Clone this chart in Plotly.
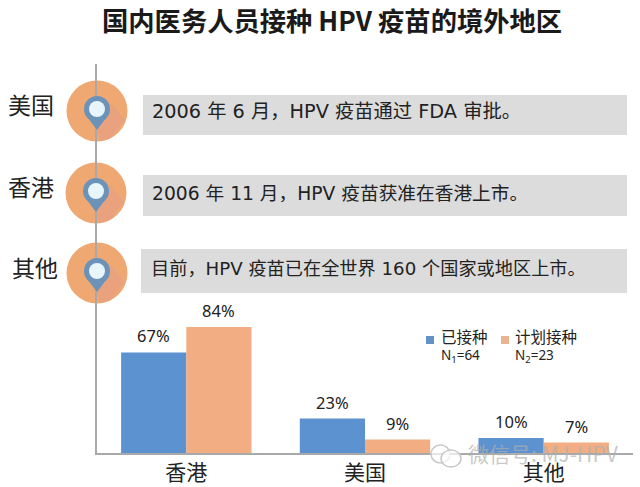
import plotly.graph_objects as go

W, H = 640, 487
CJK = "Noto Sans CJK SC"
MIXED = "DejaVu Sans, Noto Sans CJK SC"

categories = ["香港", "美国", "其他"]
vaccinated = [67, 23, 10]
planned = [84, 9, 7]
series_names = ["已接种", "计划接种"]
series_notes = ["N<sub>1</sub>=64", "N<sub>2</sub>=23"]
title_text = "国内医务人员接种 HPV 疫苗的境外地区"
timeline_labels = ["美国", "香港", "其他"]
timeline_texts = ["2006 年 6 月，HPV 疫苗通过 FDA 审批。",
                  "2006 年 11 月，HPV 疫苗获准在香港上市。",
                  "目前，HPV 疫苗已在全世界 160 个国家或地区上市。"]
watermark = "微信号: MJ-HPV"

BLUE, ORANGE = "#5b92cf", "#f2ae82"


def px(x):
    return x / W


def py(y):
    return 1 - y / H


fig = go.Figure()
fig.add_bar(x=categories, y=vaccinated, name=series_names[0], marker_color=BLUE, marker_line_width=0)
fig.add_bar(x=categories, y=planned, name=series_names[1], marker_color=ORANGE, marker_line_width=0)

shapes, annotations = [], []


def rect(x0, y0, x1, y1, color, layer="below"):
    shapes.append(dict(type="rect", xref="paper", yref="paper", x0=px(x0), x1=px(x1), y0=py(y1), y1=py(y0),
                       fillcolor=color, line_width=0, layer=layer))


def circle(cx, cy, r, color, layer="below"):
    shapes.append(dict(type="circle", xref="paper", yref="paper", x0=px(cx - r), x1=px(cx + r),
                       y0=py(cy + r), y1=py(cy - r), fillcolor=color, line_width=0, layer=layer))


def poly(points, color, layer="below"):
    p = "M" + " L".join(f"{px(a):.5f},{py(b):.5f}" for a, b in points) + " Z"
    shapes.append(dict(type="path", xref="paper", yref="paper", path=p, fillcolor=color, line_width=0, layer=layer))


def label(x, y, text, size, color="#222", anchor="center", bold=False, family=CJK):
    annotations.append(dict(xref="paper", yref="paper", x=px(x), y=py(y - 0.13 * size),
                            text=f"<b>{text}</b>" if bold else text,
                            showarrow=False, xanchor=anchor, yanchor="middle",
                            font=dict(family=family, size=size, color=color)))


# timeline rows: box, pin and labels
boxes = [(143, 95, 627, 135), (143, 175, 627, 216), (141, 249, 627, 293)]
box_text_x = [150, 150, 149]
box_text_y = [114, 196, 271]
box_text_size = [19.3, 18.7, 18.2]
pins = [(97, 111), (96, 193), (97, 273)]
left_x = [31, 31, 35]
left_y = [107, 189, 270]
for i in range(3):
    x0, y0, x1, y1 = boxes[i]
    rect(x0, y0, x1, y1, "#dcdcdc")
    label(box_text_x[i], box_text_y[i], timeline_texts[i], box_text_size[i], anchor="left", family=MIXED)
    cx, cy = pins[i]
    circle(cx, cy, 30.5, "#f0a873")
    poly([(cx + 14, cy - 8), (cx + 28, cy + 9), (cx + 14, cy + 27), (cx + 3, cy + 30), (cx, cy + 20)], "#e9a27d")
    circle(cx, cy - 2, 13, "#6b93b9", "above")
    poly([(cx - 12, cy + 3), (cx + 12, cy + 3), (cx, cy + 19)], "#6b93b9", "above")
    circle(cx, cy - 2, 8, "#e8f6fb", "above")
    label(left_x[i], left_y[i], timeline_labels[i], 23)

# title
label(332, 23, title_text, 26.3, color="#1a1a1a", bold=True)

# value labels sit on top of their bars
for j, cat in enumerate(categories):
    for vals, shift in ((vaccinated, -32.5), (planned, 32.5)):
        annotations.append(dict(x=cat, y=vals[j], xref="x", yref="y", text=f"{vals[j]}%", showarrow=False,
                                xshift=shift, yshift=3, yanchor="bottom", xanchor="center",
                                font=dict(family="Noto Sans", size=16.5, color="#222")))

# hand-placed legend (swatch beside the first line only)
legend_swatch_x = [426, 501]
legend_text_x = [439, 513]
legend_colors = ["#6193c6", "#e9b48f"]
for k in range(2):
    rect(legend_swatch_x[k], 336, legend_swatch_x[k] + 8, 344, legend_colors[k], "above")
    label(legend_text_x[k], 338, series_names[k], 15.5, anchor="left")
    label(legend_text_x[k], 358, series_notes[k], 13.5, anchor="left", family="Noto Sans")

# watermark
label(543, 456, watermark, 21, color="rgba(175,175,175,0.7)")
shapes.append(dict(type="circle", xref="paper", yref="paper", x0=px(431), x1=px(450), y0=py(463), y1=py(445),
                   fillcolor="rgba(255,255,255,0.7)", line=dict(color="#c9c9c9", width=1.5), layer="above"))
shapes.append(dict(type="circle", xref="paper", yref="paper", x0=px(441), x1=px(461), y0=py(467), y1=py(450),
                   fillcolor="rgba(255,255,255,0.7)", line=dict(color="#c9c9c9", width=1.5), layer="above"))

fig.update_layout(
    width=W, height=H, margin=dict(l=0, r=0, t=0, b=0), paper_bgcolor="white", plot_bgcolor="white",
    barmode="group", bargap=0.27, bargroupgap=0, shapes=shapes, annotations=annotations,
    font=dict(family=CJK, color="#222"), showlegend=False,
    xaxis=dict(domain=[px(97), px(633)], showline=True, linecolor="#a9a9a9", linewidth=1.5, ticks="",
               tickfont=dict(family=CJK, size=21, color="#222"), ticklabelstandoff=0, anchor="y", fixedrange=True),
    yaxis=dict(domain=[py(453), py(64)], range=[0, 259.3], showline=True, linecolor="#a9a9a9", linewidth=1.5,
               showgrid=False, zeroline=False, showticklabels=False, ticks="", fixedrange=True),
)
fig.write_html("out.html", post_script="document.body.style.margin='0';", config={"displayModeBar": False})
